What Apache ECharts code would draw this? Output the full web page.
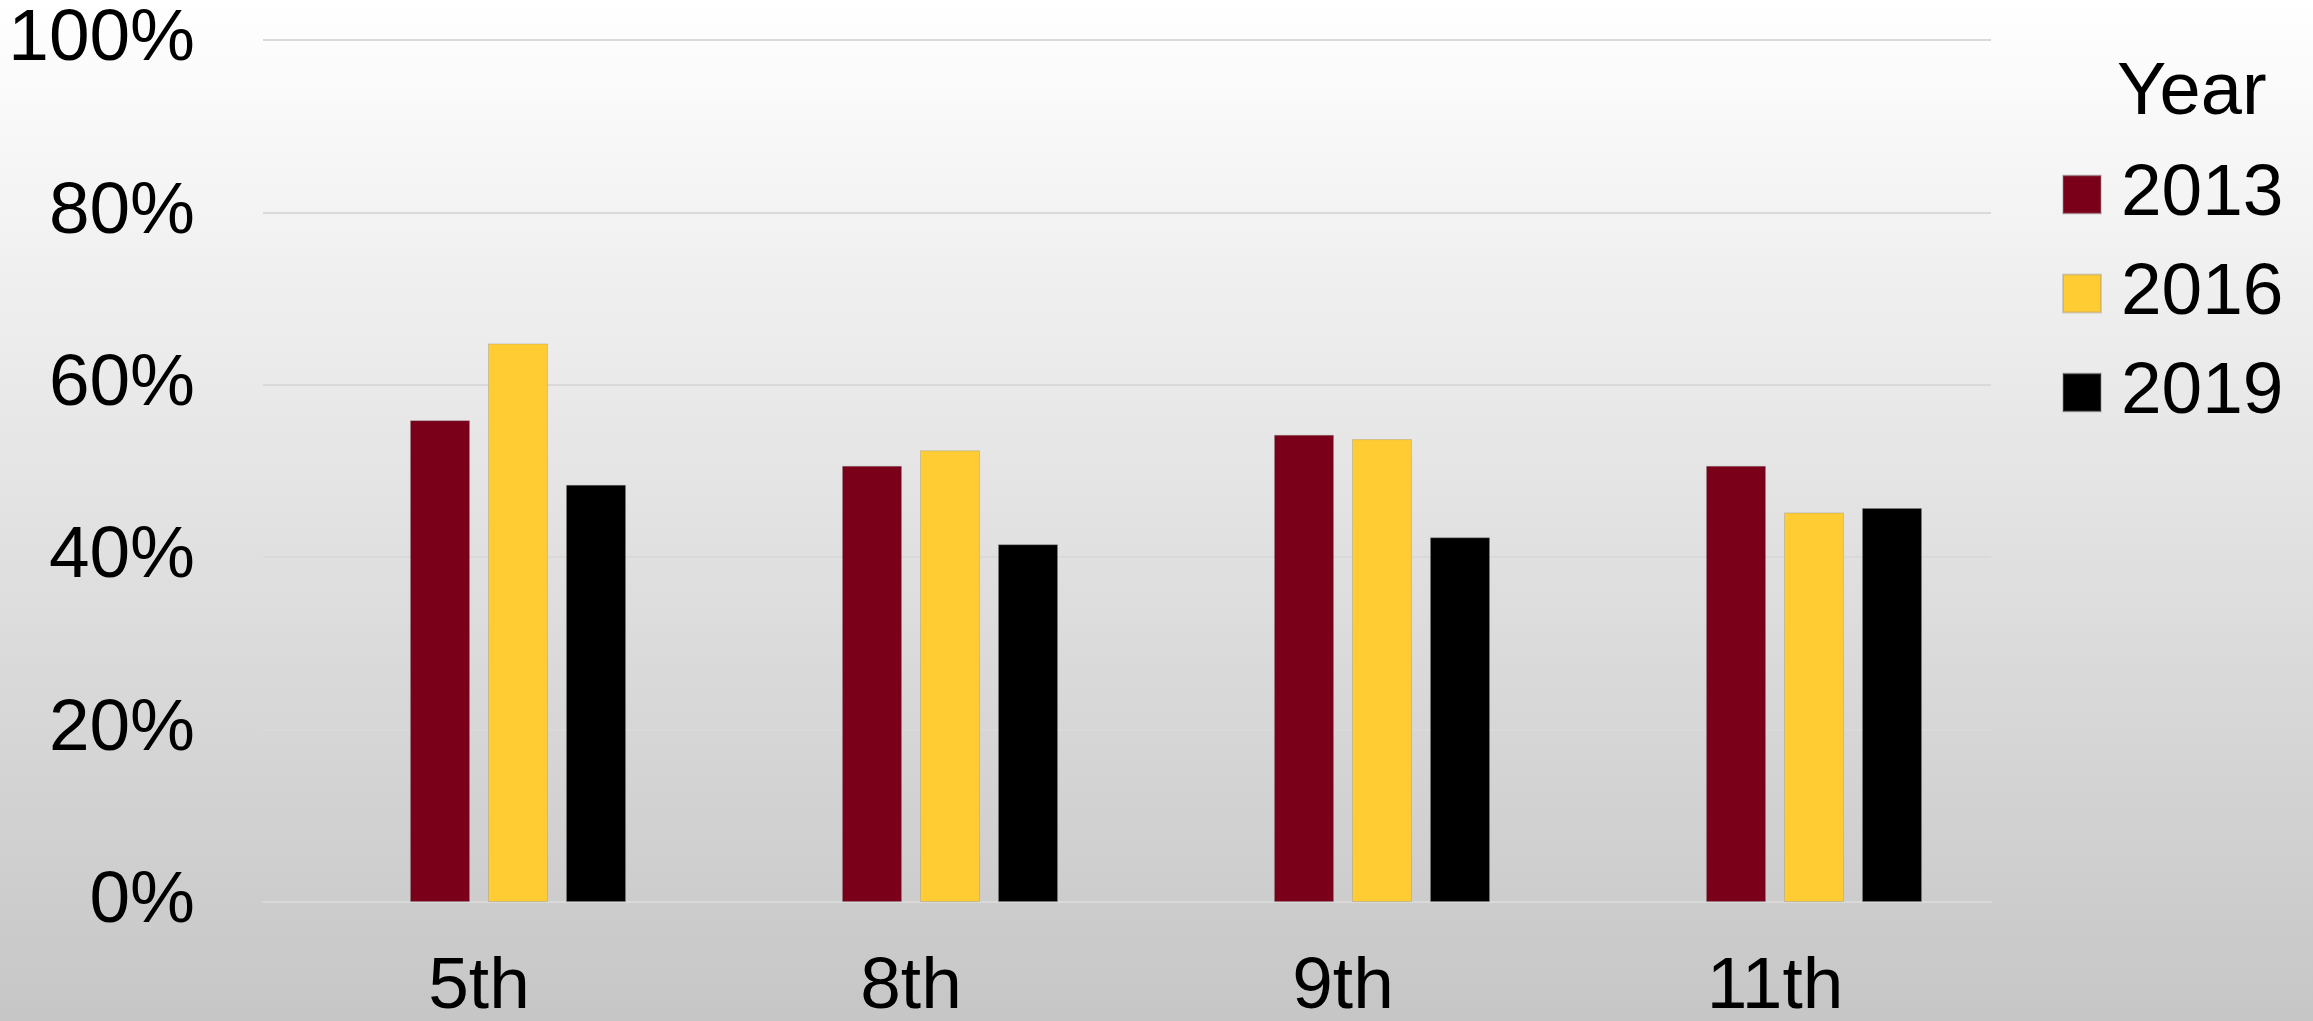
<!DOCTYPE html>
<html>
<head>
<meta charset="utf-8">
<script src="https://cdn.jsdelivr.net/npm/echarts@6/dist/echarts.min.js"></script>
<style>
  html, body { margin: 0; padding: 0; }
  #chart { width: 2313px; height: 1021px; }
</style>
</head>
<body>
<div id="chart"></div>
<script>
// Grade levels on the category axis
const grades = ['5th', '8th', '9th', '11th'];
// Survey years shown in the legend
const years = ['2013', '2016', '2019'];
// Percent of students, per grade, for each survey year
const values2013 = [55.9, 50.6, 54.2, 50.6];
const values2016 = [64.8, 52.4, 53.7, 45.2];
const values2019 = [48.4, 41.5, 42.3, 45.7];
// Value axis ticks
const yTicks = [0, 20, 40, 60, 80, 100];

const colors = ['#7A0019', '#FFCC33', '#000000'];
const FONT = '"Liberation Sans", Arial, sans-serif';
const FS = 73;

const chart = echarts.init(document.getElementById('chart'));

const barSeries = (name, data, color) => ({
  name: name,
  type: 'bar',
  data: data,
  barWidth: 60,
  barGap: '30%',
  itemStyle: { color: color, borderColor: 'rgba(140,140,140,0.35)', borderWidth: 1 }
});

chart.setOption({
  backgroundColor: {
    type: 'linear', x: 0, y: 0, x2: 0, y2: 1,
    colorStops: [
      { offset: 0, color: '#ffffff' },
      { offset: 1, color: '#c6c6c6' }
    ]
  },
  animation: false,
  title: {
    text: 'Year',
    left: 2117,
    top: 57,
    padding: 0,
    textStyle: { fontFamily: FONT, fontSize: FS + 1, fontWeight: 'normal', color: '#000' }
  },
  legend: {
    data: years,
    orient: 'vertical',
    left: 2062,
    top: 158,
    padding: 0,
    itemWidth: 38,
    itemHeight: 38,
    itemGap: 26,
    icon: 'rect',
    textStyle: { fontFamily: FONT, fontSize: FS, color: '#000', padding: [0, 0, 0, 15] }
  },
  grid: {
    left: 263, right: 322, top: 40, bottom: 119,
    containLabel: false,
    outerBoundsMode: 'none'
  },
  xAxis: {
    type: 'category',
    data: grades,
    axisLine: { show: true, lineStyle: { color: '#d9d9d9', width: 2 } },
    axisTick: { show: false },
    axisLabel: { fontFamily: FONT, fontSize: FS, color: '#000', margin: 49 }
  },
  yAxis: {
    type: 'value',
    min: yTicks[0],
    max: yTicks[yTicks.length - 1],
    interval: yTicks[1] - yTicks[0],
    axisLine: { show: false },
    axisTick: { show: false },
    splitLine: { lineStyle: { color: '#d9d9d9', width: 2 } },
    axisLabel: { fontFamily: FONT, fontSize: FS, color: '#000', margin: 68, formatter: '{value}%' }
  },
  series: [
    // unused leading slot in each group, kept out of the legend
    { name: 'blank', type: 'bar', data: grades.map(() => null), barWidth: 60, barGap: '30%' },
    barSeries(years[0], values2013, colors[0]),
    barSeries(years[1], values2016, colors[1]),
    barSeries(years[2], values2019, colors[2])
  ]
});
</script>
</body>
</html>
